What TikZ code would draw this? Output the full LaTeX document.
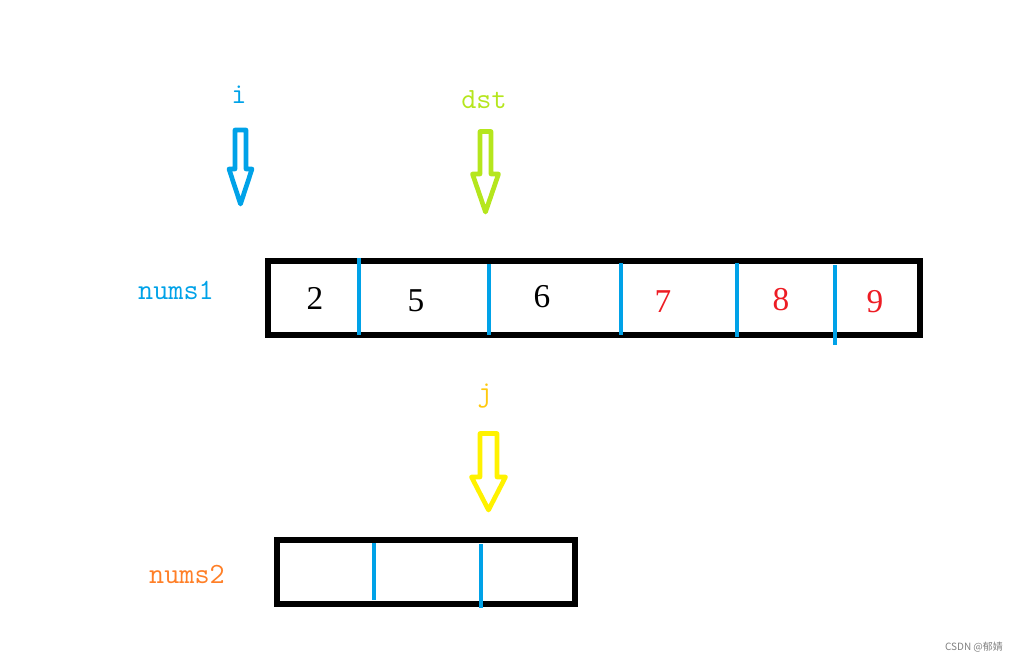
\documentclass[tikz,border=0pt]{standalone}
\usepackage{fontspec}
\usepackage{tikz}
\usetikzlibrary{calc}
\newfontfamily\cjk{Noto Sans CJK SC}
\newfontfamily\digitfont{Liberation Serif}
\definecolor{pblue}{HTML}{00A2E8}
\definecolor{plime}{HTML}{B5E61D}
\definecolor{pyellow}{HTML}{FFF200}
\definecolor{pgold}{HTML}{FFC90E}
\definecolor{porange}{HTML}{FF7F27}
\definecolor{pred}{HTML}{ED1C24}
\tikzset{>=latex,
  lbl/.style={align = center, font=\fontsize{22}{22}\selectfont\ttfamily},
  num/.style={align = center, font=\fontsize{25}{25}\selectfont\digitfont},
  sep/.style={pblue, line width=2.5pt},
  arraybox/.style={black, line width=4pt}}
% x, top, shaft half width, head y, head half width, tip y, colour
\newcommand{\blockarrow}[7]{%
  \draw[#7, line width=3.5pt, line join=round]
    (#1-#3,#2) -- (#1+#3,#2) -- (#1+#3,#4) -- (#1+#5,#4) -- (#1,#6)
    -- (#1-#5,#4) -- (#1-#3,#4) -- cycle;}

\begin{document}
\begin{tikzpicture}[x=0.75pt,y=-0.75pt]
\useasboundingbox (0,0) rectangle (1023,663);
% pointers
\node[lbl, text=pblue] (i) at (239,95) {i};
\node[lbl, text=plime] (dst) at (484,100) {dst};
\node[lbl, text=pgold] (j) at (485,396) {j};
\blockarrow{240.5}{130}{5.5}{169}{11.5}{204}{pblue}
\blockarrow{485.5}{131.5}{5.5}{174}{13}{212}{plime}
\blockarrow{488.5}{433.5}{8.5}{477}{17}{510}{pyellow}
% nums1
\node[lbl, text=pblue] (nums1) at (176,290) {nums1};
\draw[arraybox] (268,261) rectangle (920,335);
\foreach \x/\a/\b in {359/258/335, 489/264/335, 621/263/335, 737/263/337, 835/265/345}
  \draw[sep] (\x,\a) -- (\x,\b);
\node[num] (n1) at (315,298) {2};
\node[num] (n2) at (416,301) {5};
\node[num] (n3) at (542,297) {6};
\node[num, text=pred] (n4) at (663,302) {7};
\node[num, text=pred] (n5) at (781,300) {8};
\node[num, text=pred] (n6) at (875,302) {9};
% nums2
\node[lbl, text=porange] (nums2) at (187,574) {nums2};
\draw[arraybox] (277,540) rectangle (575,604);
\draw[sep] (374,543) -- (374,600);
\draw[sep] (481,544) -- (481,608);
\node[font=\cjk\fontsize{7.5}{7.5}\selectfont, text=gray] (mark) at (974,647) {CSDN @郁婧};
%\draw[help lines] (0,0) grid[step=50] (1023,663);
\end{tikzpicture}
\end{document}
